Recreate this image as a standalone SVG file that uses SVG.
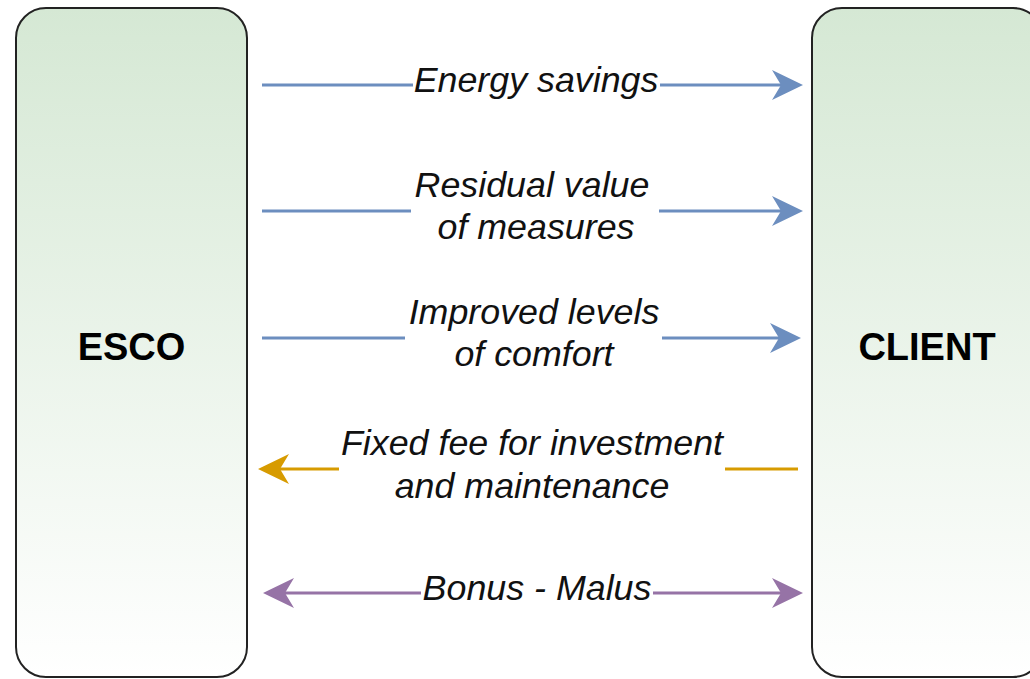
<svg xmlns="http://www.w3.org/2000/svg" width="1030" height="679" viewBox="0 0 1030 679">
  <style>
    .box { stroke: #222222; stroke-width: 2; fill: url(#boxFill); }
    .title { font-family: "Liberation Sans", Arial, sans-serif; font-weight: bold; font-size: 38px; fill: #000; text-anchor: middle; }
    .lbl { font-family: "Liberation Sans", Arial, sans-serif; font-style: italic; font-size: 35.8px; fill: #111111; text-anchor: middle; }
    .link { fill: none; stroke-width: 3; }
    .blue { stroke: #6c8ebf; }
    .orange { stroke: #d79b00; }
    .purple { stroke: #9673a6; }
    .bg { fill: #ffffff; }
  </style>
  <defs>
    <linearGradient id="boxFill" x1="0" y1="0" x2="0" y2="1">
      <stop offset="0" stop-color="#d5e8d4"/>
      <stop offset="1" stop-color="#ffffff"/>
    </linearGradient>
    <!-- classic notched arrowheads; tip sits 20px beyond the line end -->
    <marker id="headBlue" viewBox="-12 -16 34 32" refX="0" refY="0" markerWidth="34" markerHeight="32" markerUnits="userSpaceOnUse" orient="auto-start-reverse">
      <path d="M20,0 L-11,-15 L-2,0 L-11,15 Z" fill="#6c8ebf"/>
    </marker>
    <marker id="headOrange" viewBox="-12 -16 34 32" refX="0" refY="0" markerWidth="34" markerHeight="32" markerUnits="userSpaceOnUse" orient="auto-start-reverse">
      <path d="M20,0 L-11,-15 L-2,0 L-11,15 Z" fill="#d79b00"/>
    </marker>
    <marker id="headPurple" viewBox="-12 -16 34 32" refX="0" refY="0" markerWidth="34" markerHeight="32" markerUnits="userSpaceOnUse" orient="auto-start-reverse">
      <path d="M20,0 L-11,-15 L-2,0 L-11,15 Z" fill="#9673a6"/>
    </marker>
  </defs>

  <g id="esco">
    <rect class="box" x="16" y="8" width="231" height="669" rx="30" ry="30"/>
    <text class="title" x="131.5" y="360">ESCO</text>
  </g>

  <g id="client">
    <rect class="box" x="812" y="8" width="231" height="669" rx="30" ry="30"/>
    <text class="title" x="927" y="360">CLIENT</text>
  </g>

  <g id="connectors">
    <!-- Energy savings -->
    <path class="link blue" d="M262,85 H783" marker-end="url(#headBlue)"/>
    <rect class="bg" x="413" y="66" width="247" height="38"/>
    <text class="lbl" x="536" y="92">Energy savings</text>

    <!-- Residual value of measures -->
    <path class="link blue" d="M262,211 H783" marker-end="url(#headBlue)"/>
    <rect class="bg" x="411" y="170" width="248" height="80"/>
    <text class="lbl" x="532" y="197">Residual value</text>
    <text class="lbl" x="536" y="239">of measures</text>

    <!-- Improved levels of comfort -->
    <path class="link blue" d="M262,338 H781" marker-end="url(#headBlue)"/>
    <rect class="bg" x="405" y="297" width="257" height="80"/>
    <text class="lbl" x="534" y="324">Improved levels</text>
    <text class="lbl" x="534" y="366">of comfort</text>

    <!-- Fixed fee for investment and maintenance -->
    <path class="link orange" d="M798,469 H278" marker-end="url(#headOrange)"/>
    <rect class="bg" x="339" y="428" width="386" height="80"/>
    <text class="lbl" x="532" y="455">Fixed fee for investment</text>
    <text class="lbl" x="532" y="498">and maintenance</text>

    <!-- Bonus - Malus -->
    <path class="link purple" d="M283,593 H783" marker-start="url(#headPurple)" marker-end="url(#headPurple)"/>
    <rect class="bg" x="421" y="574" width="232" height="38"/>
    <text class="lbl" x="537" y="600">Bonus - Malus</text>
  </g>
</svg>
